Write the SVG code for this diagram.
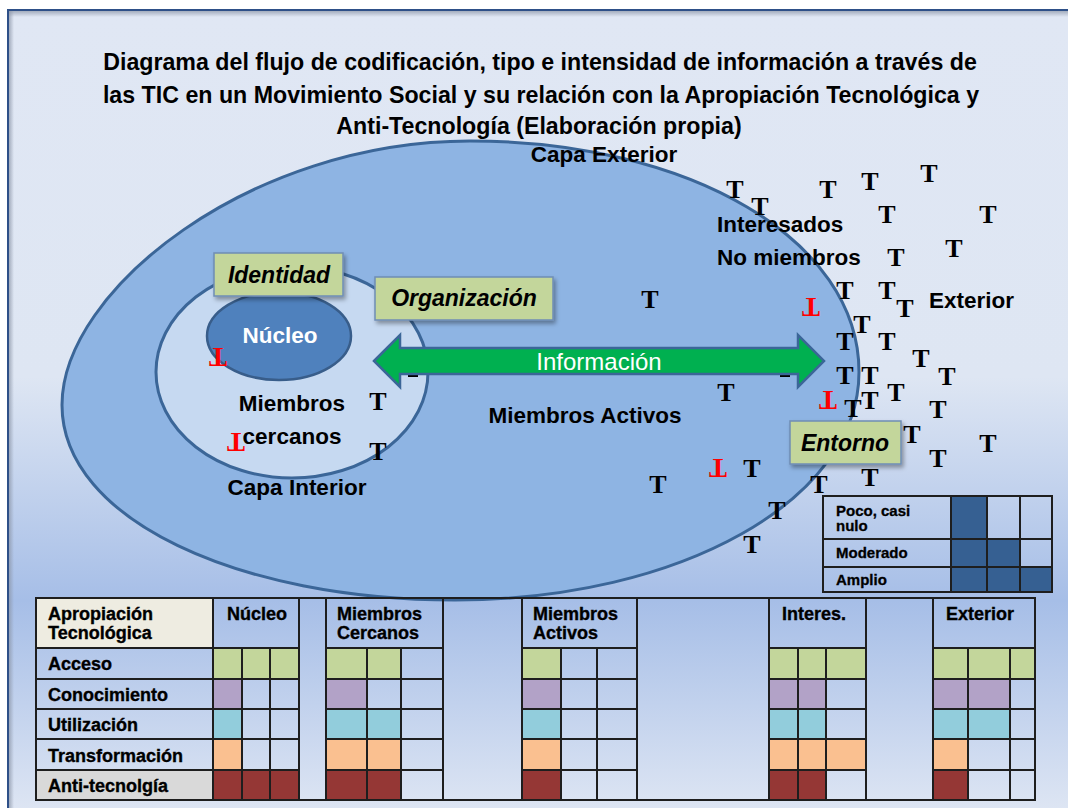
<svg xmlns="http://www.w3.org/2000/svg" width="1068" height="808" viewBox="0 0 1068 808">
<defs>
<linearGradient id="bg" gradientUnits="userSpaceOnUse" x1="0" y1="10" x2="0" y2="808">
<stop offset="0" stop-color="#e0e7f4"/>
<stop offset="0.46" stop-color="#dee6f3"/>
<stop offset="0.74" stop-color="#a6bee7"/>
<stop offset="1" stop-color="#dde5f3"/>
</linearGradient>
<linearGradient id="shTop" x1="0" y1="0" x2="0" y2="1">
<stop offset="0" stop-color="#8a94a6" stop-opacity="0.7"/>
<stop offset="1" stop-color="#8a94a6" stop-opacity="0"/>
</linearGradient>
<linearGradient id="shLeft" x1="0" y1="0" x2="1" y2="0">
<stop offset="0" stop-color="#8a94a6" stop-opacity="0.7"/>
<stop offset="1" stop-color="#8a94a6" stop-opacity="0"/>
</linearGradient>
<filter id="ds" x="-20%" y="-30%" width="150%" height="170%">
<feDropShadow dx="2" dy="3" stdDeviation="2" flood-color="#000" flood-opacity="0.35"/>
</filter>
<style>
.ttl{font-family:"Liberation Sans",Arial,sans-serif;font-weight:bold;font-size:23.2px;fill:#000;text-anchor:middle}
.lbl{font-family:"Liberation Sans",Arial,sans-serif;font-weight:bold;font-size:22.5px;fill:#000}
.box{fill:#c3d69b;stroke:#6f8db5;stroke-width:1.5}
.boxt{font-family:"Liberation Sans",Arial,sans-serif;font-weight:bold;font-style:italic;font-size:23px;fill:#000;text-anchor:middle}
.t{font-family:"Liberation Serif","Times New Roman",serif;font-weight:bold;font-size:26px;fill:#000;text-anchor:middle}
.r{font-family:"Liberation Serif","Times New Roman",serif;font-weight:bold;font-size:27px;fill:#ff0000;text-anchor:middle}
.tb{font-family:"Liberation Sans",Arial,sans-serif;font-weight:bold;font-size:18px;fill:#000;stroke:#000;stroke-width:0.35}
.lg{font-family:"Liberation Sans",Arial,sans-serif;font-weight:bold;font-size:15px;fill:#000;stroke:#000;stroke-width:0.3}
.grid{fill:none;stroke:#1e1e1e;stroke-width:2}
.G{fill:#c3d69b}.P{fill:#b2a2c7}.C{fill:#92cddc}.O{fill:#fac090}.R{fill:#953735}.D{fill:#366092}
</style>
</defs>

<rect x="0" y="0" width="1068" height="808" fill="#ffffff"/>
<rect x="8" y="10" width="1080" height="820" fill="url(#bg)" stroke="#2e5088" stroke-width="2"/>
<rect x="9" y="11" width="1059" height="6" fill="url(#shTop)"/>
<rect x="9" y="11" width="5" height="797" fill="url(#shLeft)"/>

<g id="title">
<text class="ttl" x="540" y="70">Diagrama del flujo de codificación, tipo e intensidad de información a través de</text>
<text class="ttl" x="541" y="103">las TIC en un Movimiento Social y su relación con la Apropiación Tecnológica y</text>
<text class="ttl" x="539" y="134">Anti-Tecnología (Elaboración propia)</text>
</g>

<g id="capa-exterior">
<path d="M62,405 C62,290 250,141 470,141 C690,141 859,240 859,372 C859,500 680,600 455,600 C240,600 62,520 62,405 Z" fill="#8eb4e3" stroke="#3b6698" stroke-width="3"/>
<text class="lbl" x="604" y="162" text-anchor="middle">Capa Exterior</text>
</g>

<g id="capa-interior">
<ellipse cx="292" cy="372" rx="136" ry="106" fill="#c6d9f1" stroke="#3b6698" stroke-width="3"/>
<text class="lbl" x="297" y="495" text-anchor="middle">Capa Interior</text>
<text class="lbl" x="292" y="411" text-anchor="middle">Miembros</text>
<text class="lbl" x="292" y="444" text-anchor="middle">cercanos</text>
</g>

<g id="nucleo">
<ellipse cx="279" cy="336" rx="72" ry="44" fill="#4f81bd" stroke="#385d8a" stroke-width="2.5"/>
<text x="280" y="343" text-anchor="middle" font-family="'Liberation Sans',Arial,sans-serif" font-weight="bold" font-size="22.5" fill="#ffffff">Núcleo</text>
</g>

<g id="labels">
<text class="lbl" x="585" y="423" text-anchor="middle">Miembros Activos</text>
<text class="lbl" x="717" y="232">Interesados</text>
<text class="lbl" x="717" y="265">No miembros</text>
<text class="lbl" x="929" y="308">Exterior</text>
</g>

<g id="hidden-t">
<rect x="408" y="375" width="10" height="2" fill="#000"/>
<rect x="780" y="375" width="10" height="2" fill="#000"/>
</g>

<g id="connectors">
<path id="informacion-arrow" d="M374,361 L400,335 L400,348 L798,348 L798,335 L824,361 L798,387 L798,374 L400,374 L400,387 Z" fill="#00b050" stroke="#3b6698" stroke-width="2.5" stroke-linejoin="miter"/>
<text x="599" y="370" text-anchor="middle" font-family="'Liberation Sans',Arial,sans-serif" font-size="24" fill="#ffffff">Información</text>
</g>

<g id="identidad">
<rect class="box" x="214" y="253" width="129" height="43" filter="url(#ds)"/>
<text class="boxt" x="279" y="283">Identidad</text>
</g>
<g id="organizacion">
<rect class="box" x="375" y="277" width="178" height="43" filter="url(#ds)"/>
<text class="boxt" x="464" y="306">Organización</text>
</g>

<g id="ts">
<text class="t" x="735" y="198">T</text>
<text class="t" x="760" y="215">T</text>
<text class="t" x="828" y="198">T</text>
<text class="t" x="870" y="190">T</text>
<text class="t" x="929" y="182">T</text>
<text class="t" x="887" y="223">T</text>
<text class="t" x="988" y="223">T</text>
<text class="t" x="896" y="266">T</text>
<text class="t" x="954" y="257">T</text>
<text class="t" x="650" y="308">T</text>
<text class="t" x="845" y="299">T</text>
<text class="t" x="887" y="299">T</text>
<text class="t" x="905" y="317">T</text>
<text class="t" x="862" y="333">T</text>
<text class="t" x="845" y="350">T</text>
<text class="t" x="887" y="350">T</text>
<text class="t" x="921" y="367">T</text>
<text class="t" x="947" y="385">T</text>
<text class="t" x="845" y="384">T</text>
<text class="t" x="870" y="384">T</text>
<text class="t" x="726" y="401">T</text>
<text class="t" x="896" y="401">T</text>
<text class="t" x="870" y="409">T</text>
<text class="t" x="853" y="417">T</text>
<text class="t" x="938" y="418">T</text>
<text class="t" x="912" y="443">T</text>
<text class="t" x="988" y="452">T</text>
<text class="t" x="938" y="467">T</text>
<text class="t" x="870" y="486">T</text>
<text class="t" x="752" y="477">T</text>
<text class="t" x="658" y="493">T</text>
<text class="t" x="819" y="493">T</text>
<text class="t" x="777" y="519">T</text>
<text class="t" x="752" y="553">T</text>
<text class="t" x="378" y="410">T</text>
<text class="t" x="378" y="460">T</text>
</g>

<g id="anti-ts">
<text class="r" transform="translate(811,307) rotate(180)" x="0" y="9">T</text>
<text class="r" transform="translate(828,400) rotate(180)" x="0" y="9">T</text>
<text class="r" transform="translate(718,468) rotate(180)" x="0" y="9">T</text>
<text class="r" transform="translate(218,357) rotate(180)" x="0" y="9">T</text>
<text class="r" transform="translate(236,442) rotate(180)" x="0" y="9">T</text>
</g>

<g id="entorno">
<rect class="box" x="790" y="421" width="111" height="43" filter="url(#ds)"/>
<text class="boxt" x="845" y="451" font-size="22.5">Entorno</text>
</g>

<g id="legend">
<rect class="D" x="951" y="496" width="36" height="43"/>
<rect class="D" x="951" y="539" width="36" height="28"/>
<rect class="D" x="987" y="539" width="33" height="28"/>
<rect class="D" x="951" y="567" width="36" height="25"/>
<rect class="D" x="987" y="567" width="33" height="25"/>
<rect class="D" x="1020" y="567" width="32" height="25"/>
<path class="grid" d="M823,496 H1052 V592 H823 Z M951,496 V592 M987,496 V592 M1020,496 V592 M823,539 H1052 M823,567 H1052"/>
<text class="lg" x="836" y="516">Poco, casi</text>
<text class="lg" x="836" y="531">nulo</text>
<text class="lg" x="836" y="558">Moderado</text>
<text class="lg" x="836" y="585">Amplio</text>
</g>

<g id="tabla">
<rect x="36" y="598" width="177" height="50" fill="#eeece1"/>
<rect x="36" y="770" width="177" height="30" fill="#d9d9d9"/>
<rect class="G" x="213" y="648" width="29" height="31"/><rect class="G" x="242" y="648" width="28" height="31"/><rect class="G" x="270" y="648" width="29" height="31"/>
<rect class="P" x="213" y="679" width="29" height="30"/>
<rect class="C" x="213" y="709" width="29" height="30"/>
<rect class="O" x="213" y="739" width="29" height="31"/>
<rect class="R" x="213" y="770" width="29" height="30"/><rect class="R" x="242" y="770" width="28" height="30"/><rect class="R" x="270" y="770" width="29" height="30"/>
<rect class="G" x="326" y="648" width="41" height="31"/><rect class="G" x="367" y="648" width="34" height="31"/>
<rect class="P" x="326" y="679" width="41" height="30"/>
<rect class="C" x="326" y="709" width="41" height="30"/><rect class="C" x="367" y="709" width="34" height="30"/>
<rect class="O" x="326" y="739" width="41" height="31"/><rect class="O" x="367" y="739" width="34" height="31"/>
<rect class="R" x="326" y="770" width="41" height="30"/><rect class="R" x="367" y="770" width="34" height="30"/>
<rect class="G" x="522" y="648" width="39" height="31"/>
<rect class="P" x="522" y="679" width="39" height="30"/>
<rect class="C" x="522" y="709" width="39" height="30"/>
<rect class="O" x="522" y="739" width="39" height="31"/>
<rect class="R" x="522" y="770" width="39" height="30"/>
<rect class="G" x="769" y="648" width="29" height="31"/><rect class="G" x="798" y="648" width="28" height="31"/><rect class="G" x="826" y="648" width="40" height="31"/>
<rect class="P" x="769" y="679" width="29" height="30"/><rect class="P" x="798" y="679" width="28" height="30"/>
<rect class="C" x="769" y="709" width="29" height="30"/><rect class="C" x="798" y="709" width="28" height="30"/>
<rect class="O" x="769" y="739" width="29" height="31"/><rect class="O" x="798" y="739" width="28" height="31"/><rect class="O" x="826" y="739" width="40" height="31"/>
<rect class="R" x="769" y="770" width="29" height="30"/><rect class="R" x="798" y="770" width="28" height="30"/>
<rect class="G" x="933" y="648" width="35" height="31"/><rect class="G" x="968" y="648" width="42" height="31"/><rect class="G" x="1010" y="648" width="25" height="31"/>
<rect class="P" x="933" y="679" width="35" height="30"/><rect class="P" x="968" y="679" width="42" height="30"/>
<rect class="C" x="933" y="709" width="35" height="30"/><rect class="C" x="968" y="709" width="42" height="30"/>
<rect class="O" x="933" y="739" width="35" height="31"/>
<rect class="R" x="933" y="770" width="35" height="30"/>
<path class="grid" d="M36,598 H1035 V800 H36 Z
M213,598 V800 M299,598 V800 M326,598 V800 M443,598 V800 M522,598 V800 M637,598 V800 M769,598 V800 M866,598 V800 M933,598 V800
M242,648 V800 M270,648 V800 M367,648 V800 M401,648 V800 M561,648 V800 M597,648 V800 M798,648 V800 M826,648 V800 M968,648 V800 M1010,648 V800
M36,648 H299 M36,679 H299 M36,709 H299 M36,739 H299 M36,770 H299
M326,648 H443 M326,679 H443 M326,709 H443 M326,739 H443 M326,770 H443
M522,648 H637 M522,679 H637 M522,709 H637 M522,739 H637 M522,770 H637
M769,648 H866 M769,679 H866 M769,709 H866 M769,739 H866 M769,770 H866
M933,648 H1035 M933,679 H1035 M933,709 H1035 M933,739 H1035 M933,770 H1035"/>
<text class="tb" x="48" y="620">Apropiación</text>
<text class="tb" x="48" y="639">Tecnológica</text>
<text class="tb" x="257" y="620" text-anchor="middle">Núcleo</text>
<text class="tb" x="337" y="620">Miembros</text>
<text class="tb" x="337" y="639">Cercanos</text>
<text class="tb" x="533" y="620">Miembros</text>
<text class="tb" x="533" y="639">Activos</text>
<text class="tb" x="814" y="620" text-anchor="middle">Interes.</text>
<text class="tb" x="980" y="620" text-anchor="middle">Exterior</text>
<text class="tb" x="48" y="670">Acceso</text>
<text class="tb" x="48" y="701">Conocimiento</text>
<text class="tb" x="48" y="731">Utilización</text>
<text class="tb" x="48" y="762">Transformación</text>
<text class="tb" x="48" y="792">Anti-tecnolgía</text>
</g>
</svg>
